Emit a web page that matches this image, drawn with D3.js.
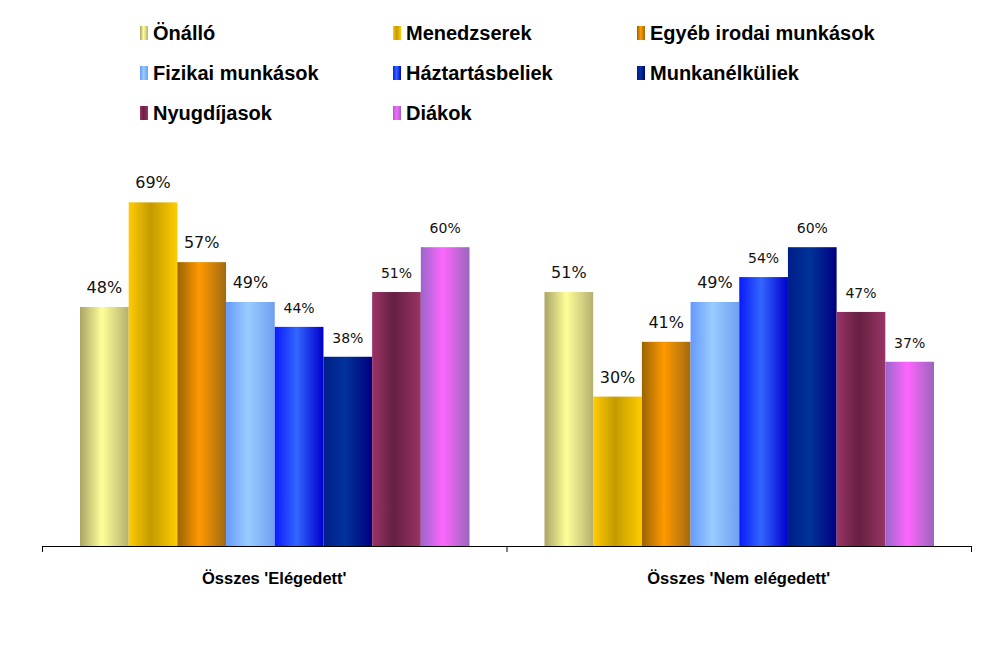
<!DOCTYPE html>
<html>
<head>
<meta charset="utf-8">
<script src="https://cdn.jsdelivr.net/npm/d3@7"></script>
<style>
  body { margin: 0; background: #fff; }
  svg text { font-family: "Liberation Sans Narrow", "Arial Narrow", "Liberation Sans", sans-serif; }
</style>
</head>
<body>
<div id="chart"></div>
<script>
let groups = ["Összes 'Elégedett'", "Összes 'Nem elégedett'"]
let seriesNames = ['Önálló', 'Menedzserek', 'Egyéb irodai munkások', 'Fizikai munkások',
  'Háztartásbeliek', 'Munkanélküliek', 'Nyugdíjasok', 'Diákok']
let satisfied = [48, 69, 57, 49, 44, 38, 51, 60]
let notSatisfied = [51, 30, 41, 49, 54, 60, 47, 37]

// gradient stops: left edge, middle, right edge
let barColors = [
  ['#aaa565', '#ffff99', '#b5b070'],
  ['#ffcc00', '#c49a00', '#ffcc00'],
  ['#9a6400', '#ff9900', '#a06a10'],
  ['#6699ff', '#99ccff', '#6f9ff0'],
  ['#0a1aff', '#3366ff', '#0000cc'],
  ['#001e8a', '#003399', '#000080'],
  ['#993366', '#652040', '#993366'],
  ['#9966cc', '#ff66ff', '#9966bb']
]

let width = 1008
let height = 661
let baseY = 546

let svg = d3.select('#chart').append('svg')
  .attr('width', width).attr('height', height)

let defs = svg.append('defs')
barColors.forEach((c, i) => {
  let g = defs.append('linearGradient').attr('id', 'grad' + i)
    .attr('x1', '0%').attr('x2', '100%').attr('y1', '0%').attr('y2', '0%')
  g.append('stop').attr('offset', '0%').attr('stop-color', c[0])
  g.append('stop').attr('offset', '45%').attr('stop-color', c[1])
  g.append('stop').attr('offset', '100%').attr('stop-color', c[2])
})

/* Scales */
let x0 = d3.scaleBand().domain(groups).range([42, 971]).paddingInner(0).paddingOuter(0)
let x1 = d3.scaleBand().domain(seriesNames).range([38, x0.bandwidth() - 37])
let y = d3.scaleLinear().domain([0, 80]).range([baseY, baseY - 80 * 4.98])

let data = groups.map((g, gi) => ({
  group: g,
  values: seriesNames.map((s, si) => ({ name: s, idx: si, value: gi === 0 ? satisfied[si] : notSatisfied[si] }))
}))

let gGroups = svg.selectAll('.grp').data(data).enter().append('g')
  .attr('class', 'grp')
  .attr('transform', d => `translate(${x0(d.group)},0)`)

gGroups.selectAll('rect').data(d => d.values).enter().append('rect')
  .attr('x', d => x1(d.name))
  .attr('y', d => y(d.value))
  .attr('width', x1.bandwidth())
  .attr('height', d => baseY - y(d.value))
  .attr('fill', d => `url(#grad${d.idx})`)

gGroups.selectAll('.lbl').data(d => d.values).enter().append('text')
  .attr('class', 'lbl')
  .attr('x', d => x1(d.name) + x1.bandwidth() / 2)
  .attr('y', d => y(d.value) - 14)
  .attr('text-anchor', 'middle')
  .style('font-family', 'Verdana, "DejaVu Sans", sans-serif')
  .style('font-size', d => d.idx < 4 ? '16px' : '14px')
  .attr('fill', '#111')
  .text(d => d.value + '%')

/* Axis */
let axis = svg.append('g')
axis.append('line').attr('x1', 42).attr('x2', 971).attr('y1', baseY + 0.5).attr('y2', baseY + 0.5)
  .attr('stroke', '#000')
let tickXs = [x0.range()[0], x0(groups[1]), x0.range()[1]]
axis.selectAll('.tk').data(tickXs).enter().append('line')
  .attr('x1', d => d + 0.5).attr('x2', d => d + 0.5)
  .attr('y1', baseY).attr('y2', baseY + 6).attr('stroke', '#000')

svg.selectAll('.cat').data(groups).enter().append('text')
  .attr('x', d => x0(d) + x0.bandwidth() / 2)
  .attr('y', 584)
  .attr('text-anchor', 'middle')
  .style('font-size', '16.5px').style('font-weight', 'bold')
  .text(d => d)

/* Legend */
let legendCols = [140, 393, 637]
let legend = svg.selectAll('.leg').data(seriesNames).enter().append('g')
  .attr('transform', (d, i) => `translate(${legendCols[i % 3]},${33 + Math.floor(i / 3) * 40})`)
legend.append('rect').attr('x', 0).attr('y', -7).attr('width', 8).attr('height', 14)
  .attr('fill', (d, i) => `url(#grad${i})`)
legend.append('text').attr('x', 13).attr('y', 7)
  .style('font-size', '20px').style('font-weight', 'bold')
  .text(d => d)
</script>
</body>
</html>
